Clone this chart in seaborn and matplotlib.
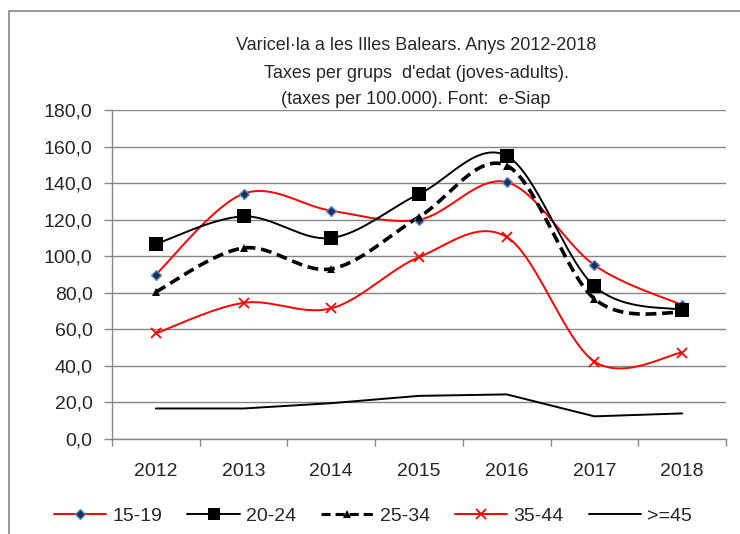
import numpy as np
import pandas as pd
import matplotlib
matplotlib.use("Agg")
import matplotlib.pyplot as plt
from matplotlib.lines import Line2D
from matplotlib.patches import Rectangle
import seaborn as sns

years = ["2012", "2013", "2014", "2015", "2016", "2017", "2018"]
s15_19 = [90.0, 134.2, 124.9, 120.0, 140.5, 95.1, 73.3]
s20_24 = [106.7, 121.8, 110.0, 134.0, 154.9, 83.6, 70.5]
s25_34 = [80.5, 104.5, 93.1, 121.5, 149.6, 76.7, 69.1]
s35_44 = [57.8, 74.5, 71.5, 99.5, 110.5, 42.4, 47.3]
s45 = [16.7, 16.7, 19.6, 23.6, 24.4, 12.4, 14.0]
labels = ["15-19", "20-24", "25-34", "35-44", ">=45"]

sns.set_theme(style="white")
plt.rcParams['font.family'] = ['Liberation Sans', 'DejaVu Sans']
FS = 13.5

fig = plt.figure(figsize=(7.4, 5.34), dpi=100)
ax = fig.add_axes([112/740, 1-439/534, (726-112)/740, (439-110)/534])


def smooth(xs, ys, n=30):
    """Excel-style smoothed path (Catmull-Rom Bezier) for drawing."""
    xs = np.asarray(xs, float); ys = np.asarray(ys, float)
    P = np.column_stack([xs, ys])
    out = []
    for i in range(len(P) - 1):
        p0 = P[i - 1] if i > 0 else P[i]
        p1 = P[i]; p2 = P[i + 1]
        p3 = P[i + 2] if i + 2 < len(P) else P[i + 1]
        c1 = p1 + (p2 - p0) / 6
        c2 = p2 - (p3 - p1) / 6
        t = np.linspace(0, 1, n)[:, None]
        seg = ((1 - t) ** 3) * p1 + 3 * ((1 - t) ** 2) * t * c1 + 3 * (1 - t) * t ** 2 * c2 + t ** 3 * p2
        out.append(seg if i == 0 else seg[1:])
    return np.vstack(out)

xidx = np.arange(len(years))
series = [
    (labels[0], s15_19, dict(color="#FF0000", lw=1.4, ls="-"), dict(marker="D", ms=5, mfc="#1F2F50", mec="#5B8BD0", mew=1.0), True),
    (labels[1], s20_24, dict(color="black", lw=1.4, ls="-"), dict(marker="s", ms=10, mfc="black", mec="black", mew=0), True),
    (labels[2], s25_34, dict(color="black", lw=2.6, ls=(0, (3, 1.6))), dict(marker="^", ms=6, mfc="black", mec="black", mew=0), True),
    (labels[3], s35_44, dict(color="#FF0000", lw=1.4, ls="-"), dict(marker="x", ms=7, mfc="#FF0000", mec="#FF0000", mew=1.3), True),
    (labels[4], s45, dict(color="black", lw=1.4, ls="-"), dict(marker=None), False),
]

handles = []
for name, vals, lstyle, mstyle, sm in series:
    if sm:
        c = smooth(xidx, vals)
        df = pd.DataFrame({"x": c[:, 0], "y": c[:, 1]})
    else:
        df = pd.DataFrame({"x": xidx, "y": vals})
    sns.lineplot(data=df, x="x", y="y", ax=ax, sort=False, estimator=None,
                 color=lstyle["color"], linewidth=lstyle["lw"], linestyle=lstyle["ls"], zorder=3)
    if mstyle.get("marker"):
        ax.plot(xidx, vals, linestyle="none", zorder=4, **mstyle)
    hm = dict(mstyle) if mstyle.get("marker") else {}
    if name == "20-24":
        hm["ms"] = 8
    handles.append(Line2D([0], [0], color=lstyle["color"], lw=lstyle["lw"] if name != "25-34" else 2.2,
                          ls=lstyle["ls"], **hm))

ax.set_xlim(-0.5, 6.5)
ax.set_ylim(0, 180)
ax.set_yticks(np.arange(0, 181, 20))
ax.set_yticklabels([f"{v:.1f}".replace(".", ",") for v in np.arange(0, 181, 20)], fontsize=14)
ax.set_xticks(xidx)
ax.set_xticklabels(years, fontsize=14)
ax.set_xticks(np.arange(-0.5, 7, 1), minor=True)
ax.tick_params(axis="x", which="major", length=0, pad=17)
ax.tick_params(axis="x", which="minor", length=5, color="#868686", width=1, direction="out", bottom=True)
ax.tick_params(axis="y", length=6, color="#868686", width=1, direction="out", left=True, pad=8)
ax.set_xlabel(""); ax.set_ylabel("")
ax.grid(axis="y", color="#868686", lw=1)
ax.grid(axis="x", visible=False)
ax.set_axisbelow(True)
for s in ["top", "right"]:
    ax.spines[s].set_visible(False)
for s in ["left", "bottom"]:
    ax.spines[s].set_color("#868686"); ax.spines[s].set_linewidth(1)

fig.text(416/740, 1-45/534, "Varicel·la a les Illes Balears. Anys 2012-2018", ha="center", va="center", fontsize=13)
fig.text(416/740, 1-73/534, "Taxes per grups  d'edat (joves-adults).", ha="center", va="center", fontsize=13)
fig.text(416/740, 1-100/534, "(taxes per 100.000). Font:  e-Siap", ha="center", va="center", fontsize=13)

fig.legend(handles, labels, loc="center", bbox_to_anchor=(373/740, 1-516/534), ncol=5, frameon=False,
           fontsize=14, handlelength=2.7, handletextpad=0.3, columnspacing=1.3)

fig.patches.append(Rectangle((9/740, -0.1), 1.2, 1-11/534+0.1, transform=fig.transFigure,
                             fill=False, edgecolor="#868686", lw=1.2))

fig.savefig("out.png", dpi=100)
